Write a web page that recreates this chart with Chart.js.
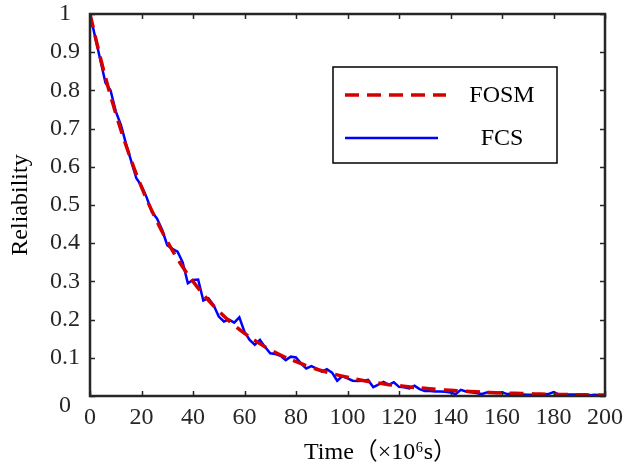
<!DOCTYPE html>
<html lang="en">

<head>
    <meta charset="UTF-8">
    <title>Reliability</title>
    <style>
        html, body { margin: 0; padding: 0; background: #fff; }
        #wrap { width: 627px; height: 467px; }
    </style>
</head>

<body>
    <div id="wrap"><canvas id="myChart" width="627" height="467"></canvas></div>
    <script src="https://cdn.jsdelivr.net/npm/chart.js"></script>
    <script>
        // FOSM curve, read every 5 time units
        const fosmTime = [0, 5, 10, 15, 20, 25, 30, 35, 40, 45, 50, 55, 60, 65, 70, 75, 80, 85, 90, 95, 100,
            105, 110, 115, 120, 125, 130, 135, 140, 145, 150, 155, 160, 165, 170, 175, 180, 185, 190, 195, 200];
        const fosmValues = [1, 0.860, 0.740, 0.636, 0.547, 0.471, 0.405, 0.348, 0.300, 0.258, 0.222,
            0.191, 0.164, 0.141, 0.121, 0.104, 0.090, 0.077, 0.066, 0.057, 0.049,
            0.042, 0.036, 0.031, 0.027, 0.023, 0.020, 0.017, 0.015, 0.013, 0.011,
            0.0094, 0.0081, 0.0069, 0.0060, 0.0051, 0.0044, 0.0038, 0.0033, 0.0028, 0.0024];

        // FCS curve, read every 2 time units
        const fcsTime = [];
        for (let t = 0; t <= 200; t += 2) fcsTime.push(t);
        const fcsValues = [1.0, 0.94, 0.88, 0.82, 0.80, 0.745, 0.71, 0.66, 0.615, 0.57,
            0.55, 0.52, 0.482, 0.465, 0.435, 0.395, 0.385, 0.378, 0.35, 0.295,
            0.304, 0.305, 0.250, 0.256, 0.238, 0.208, 0.195, 0.200, 0.192, 0.206,
            0.168, 0.147, 0.134, 0.147, 0.128, 0.112, 0.110, 0.105, 0.094, 0.103,
            0.101, 0.085, 0.072, 0.078, 0.072, 0.064, 0.070, 0.061, 0.040, 0.052,
            0.046, 0.040, 0.039, 0.040, 0.042, 0.023, 0.030, 0.037, 0.029, 0.036,
            0.024, 0.023, 0.020, 0.027, 0.018, 0.013, 0.013, 0.012, 0.012, 0.011,
            0.009, 0.005, 0.016, 0.012, 0.010, 0.008, 0.005, 0.009, 0.009, 0.008,
            0.010, 0.005, 0.006, 0.005, 0.004, 0.003, 0.003, 0.003, 0.004, 0.005,
            0.010, 0.004, 0.003, 0.004, 0.004, 0.003, 0.003, 0.002, 0.003, 0.002, 0.0];

        const xTicks = [0, 20, 40, 60, 80, 100, 120, 140, 160, 180, 200];
        const yTicks = [0, 0.1, 0.2, 0.3, 0.4, 0.5, 0.6, 0.7, 0.8, 0.9, 1];
        const seriesNames = ['FOSM', 'FCS'];

        const serif = "'Liberation Serif', 'Times New Roman', serif";
        const axisColor = '#262626';

        // box round the plot, ticks pointing inward, and the legend inside
        const frame = {
            id: 'frame',
            afterDatasetsDraw(chart) {
                const { ctx, chartArea: a, scales: { x, y } } = chart;
                ctx.save();
                ctx.strokeStyle = axisColor;
                ctx.lineWidth = 1.5;
                const len = 5;
                ctx.beginPath();
                xTicks.forEach(v => {
                    const px = Math.round(x.getPixelForValue(v)) + 0.5;
                    ctx.moveTo(px, a.bottom); ctx.lineTo(px, a.bottom - len);
                    ctx.moveTo(px, a.top); ctx.lineTo(px, a.top + len);
                });
                yTicks.forEach(v => {
                    const py = Math.round(y.getPixelForValue(v)) + 0.5;
                    ctx.moveTo(a.left, py); ctx.lineTo(a.left + len, py);
                    ctx.moveTo(a.right, py); ctx.lineTo(a.right - len, py);
                });
                ctx.stroke();
                ctx.lineWidth = 2.5;
                ctx.strokeRect(a.left, a.top, a.right - a.left, a.bottom - a.top);

                // legend
                const bx = a.left + 243, by = a.top + 53, bw = 224, bh = 96;
                ctx.fillStyle = '#fff';
                ctx.fillRect(bx, by, bw, bh);
                ctx.strokeStyle = '#000';
                ctx.lineWidth = 1.5;
                ctx.strokeRect(bx, by, bw, bh);
                const ds = chart.data.datasets;
                const rows = [{ y: by + 28, end: bx + 113, tx: bx + 169 }, { y: by + 71, end: bx + 105, tx: bx + 169 }];
                rows.forEach((r, i) => {
                    ctx.beginPath();
                    ctx.strokeStyle = ds[i].borderColor;
                    ctx.lineWidth = ds[i].borderWidth;
                    ctx.setLineDash(ds[i].borderDash || []);
                    ctx.moveTo(bx + 12, r.y);
                    ctx.lineTo(r.end, r.y);
                    ctx.stroke();
                    ctx.setLineDash([]);
                    ctx.fillStyle = '#000';
                    ctx.font = '24px ' + serif;
                    ctx.textAlign = 'center';
                    ctx.textBaseline = 'middle';
                    ctx.fillText(ds[i].label, r.tx, r.y + 1);
                });
                ctx.restore();
            }
        };

        const ctx = document.getElementById('myChart').getContext('2d');
        new Chart(ctx, {
            type: 'line',
            data: {
                datasets: [
                    {
                        label: seriesNames[0],
                        data: fosmTime.map((t, i) => ({ x: t, y: fosmValues[i] })),
                        borderColor: '#d40000',
                        borderWidth: 3.5,
                        borderDash: [14, 8],
                        pointRadius: 0,
                        tension: 0.4,
                        fill: false
                    },
                    {
                        label: seriesNames[1],
                        data: fcsTime.map((t, i) => ({ x: t, y: fcsValues[i] })),
                        borderColor: '#0000ff',
                        borderWidth: 2.5,
                        pointRadius: 0,
                        tension: 0,
                        fill: false
                    }
                ]
            },
            options: {
                responsive: false,
                animation: false,
                layout: { padding: { left: 0, right: 22, top: 14, bottom: 0 } },
                plugins: { legend: { display: false }, tooltip: { enabled: false } },
                scales: {
                    x: {
                        type: 'linear',
                        min: 0,
                        max: 200,
                        afterBuildTicks: s => { s.ticks = xTicks.map(v => ({ value: v })); },
                        afterFit: s => { s.height = 71; s.paddingLeft = 0; s.paddingRight = 0; },
                        grid: { display: false, drawTicks: false },
                        border: { display: false },
                        ticks: { color: axisColor, padding: 7, maxRotation: 0, autoSkip: false, font: { family: serif, size: 24 } },
                        title: {
                            display: true,
                            text: '           Time（×10⁶s）',
                            color: '#000',
                            padding: { top: 0, bottom: 0 },
                            font: { family: "'Liberation Serif', 'Noto Sans CJK SC', serif", size: 24 }
                        }
                    },
                    y: {
                        type: 'linear',
                        min: 0,
                        max: 1,
                        afterBuildTicks: s => { s.ticks = yTicks.map(v => ({ value: v })); },
                        afterFit: s => { s.width = 90; s.paddingTop = 0; s.paddingBottom = 0; },
                        grid: { display: false, drawTicks: false },
                        border: { display: false },
                        ticks: {
                            color: axisColor,
                            padding: 10,
                            autoSkip: false,
                            crossAlign: 'center',
                            // the zero label sits a little below the axis, as in the original
                            font: c => (c.tick && c.tick.value === 0)
                                ? { family: serif, size: 24, lineHeight: 0.85 }
                                : { family: serif, size: 24 },
                            callback: v => v === 0 ? ['', '0'] : String(Math.round(v * 10) / 10)
                        },
                        title: {
                            display: true,
                            text: 'Reliability',
                            color: '#000',
                            padding: { top: 6, bottom: 0 },
                            font: { family: serif, size: 24 }
                        }
                    }
                }
            },
            plugins: [frame]
        });
    </script>
</body>

</html>
